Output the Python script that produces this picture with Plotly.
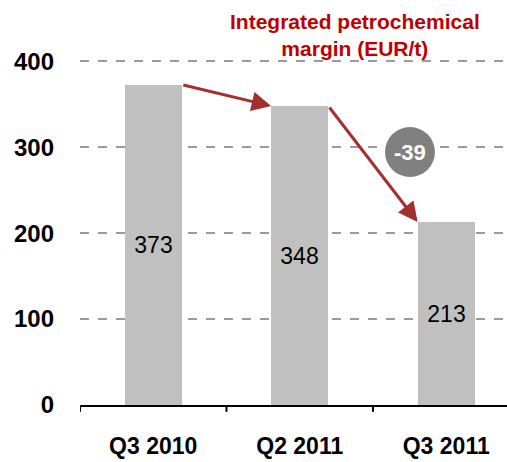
import plotly.graph_objects as go

categories = ["Q3 2010", "Q2 2011", "Q3 2011"]
values = [373, 348, 213]
value_labels = ["373", "348", "213"]
change_label = "-39"
y_ticks = [0, 100, 200, 300, 400]
title_text = "Integrated petrochemical<br>margin (EUR/t)"

BAR_W = 0.39
FONT = "Liberation Sans, Arial, sans-serif"
ARROW_C = "#A3302E"

fig = go.Figure()
fig.add_trace(go.Bar(
    x=list(range(len(categories))), y=values, width=BAR_W,
    marker=dict(color="#C0C0C0", line=dict(width=0)),
    text=value_labels, textposition="inside", insidetextanchor="middle",
    textfont=dict(family=FONT, size=23, color="black"),
    textangle=0, hoverinfo="skip",
))

# connecting arrows from top-right of one bar to top-left of next
for i in range(len(values) - 1):
    fig.add_annotation(
        x=i + 1 - BAR_W / 2, y=values[i + 1],
        ax=i + BAR_W / 2, ay=values[i],
        xref="x", yref="y", axref="x", ayref="y",
        showarrow=True, arrowhead=2, arrowsize=1.3, arrowwidth=3,
        arrowcolor=ARROW_C, text="", standoff=0,
    )

# change badge near the second arrow
mx = (1 + BAR_W / 2 + 2 - BAR_W / 2) / 2
my = (values[1] + values[2]) / 2
BX, BY, BR = 37, 12, 25
fig.add_shape(type="circle", xref="x", yref="y", xsizemode="pixel", ysizemode="pixel",
              xanchor=mx, yanchor=my, x0=BX - BR, x1=BX + BR, y0=BY - BR, y1=BY + BR,
              fillcolor="#808080", line=dict(width=0), layer="above")
fig.add_annotation(x=mx, y=my, xref="x", yref="y", xshift=BX, yshift=BY,
                   text="<b>" + change_label + "</b>", showarrow=False,
                   font=dict(family=FONT, size=22, color="white"))

fig.add_annotation(x=0.644, y=1.051, xref="paper", yref="paper", xanchor="center", yanchor="top",
                   text="<b>" + title_text + "</b>", showarrow=False, align="center",
                   font=dict(family=FONT, size=21, color="#C00000"))

fig.update_layout(
    width=507, height=462,
    margin=dict(l=80, r=0, t=27, b=57, autoexpand=False),
    paper_bgcolor="white", plot_bgcolor="white",
    showlegend=False, bargap=0,
    xaxis=dict(
        range=[-0.5, 2.415], tickmode="array", tickvals=list(range(len(categories))),
        ticktext=categories, showgrid=False, zeroline=False, automargin=False,
        showline=True, linecolor="black", linewidth=2,
        ticks="", tickfont=dict(family=FONT, size=23, color="black", weight="bold"),
        ticklabelstandoff=19,
    ),
    yaxis=dict(
        range=[0, 440], tickvals=y_ticks, ticks="", showline=False, zeroline=False,
        automargin=False,
        showgrid=True, gridcolor="#9A9A9A", gridwidth=2, griddash="dash",
        tickfont=dict(family=FONT, size=24, color="black", weight="bold"),
        ticklabelstandoff=25,
    ),
)

# category boundary ticks
for b in [-0.5, 0.5, 1.5]:
    fig.add_shape(type="line", xref="x", yref="paper", x0=b, x1=b, y0=0, y1=-0.018,
                  line=dict(color="black", width=2))

fig.write_html("out.html", config={"displayModeBar": False},
               post_script="document.body.style.margin='0px';")
